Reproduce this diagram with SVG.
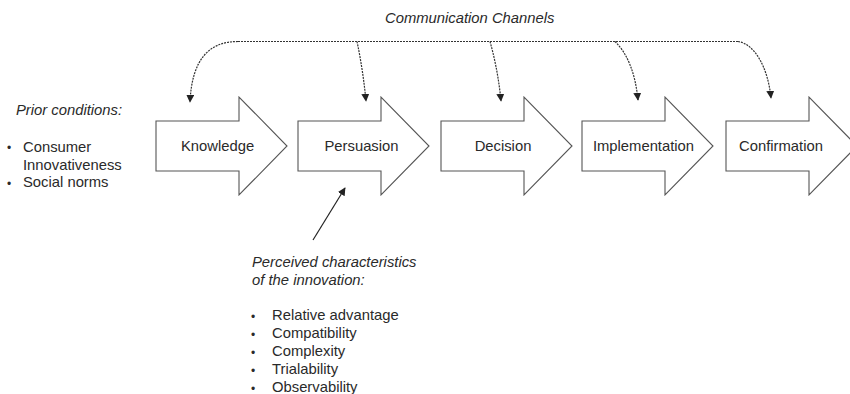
<svg xmlns="http://www.w3.org/2000/svg" width="850" height="394" viewBox="0 0 850 394">
<defs>
<style>
.t{font-family:"Liberation Sans",Arial,sans-serif;font-size:14.8px;fill:#2a2a2a}
.i{font-style:italic}
.m{text-anchor:middle}
.b{font-size:12px}
.ar{fill:#fff;stroke:#555;stroke-width:1.1}
.d{fill:none;stroke:#333;stroke-width:1.2;stroke-dasharray:2 1}
.s{fill:none;stroke:#222;stroke-width:1.2}
</style>
<marker id="ah" viewBox="0 0 10 10" refX="9" refY="5" markerWidth="8" markerHeight="8" markerUnits="userSpaceOnUse" orient="auto">
<path d="M0,0 L10,5 L0,10 Z" fill="#222"/>
</marker>
<path id="shape" d="M0,121 H83 V97 L131,146 L83,195 V171 H0 Z"/>
</defs>
<rect width="850" height="394" fill="#fff"/>
<text class="t i" x="385" y="23">Communication Channels</text>
<g id="connectors">
<path class="d" d="M238,41.5 H738"/>
<path class="d" d="M238,41.5 C210,41.5 192,58 190,102" marker-end="url(#ah)"/>
<path class="d" d="M357,41.5 Q363,70 366,101" marker-end="url(#ah)"/>
<path class="d" d="M490,41.5 Q498,70 501,101" marker-end="url(#ah)"/>
<path class="d" d="M615,41.5 Q634,60 638,100" marker-end="url(#ah)"/>
<path class="d" d="M738,41.5 C755,44 768,68 771,98" marker-end="url(#ah)"/>
<path class="s" d="M313,240 L345,188" marker-end="url(#ah)"/>
</g>
<g id="knowledge"><use href="#shape" class="ar" x="156"/><text class="t m" x="217.5" y="151">Knowledge</text></g>
<g id="persuasion"><use href="#shape" class="ar" x="298"/><text class="t m" x="361.5" y="151">Persuasion</text></g>
<g id="decision"><use href="#shape" class="ar" x="441"/><text class="t m" x="503" y="151">Decision</text></g>
<g id="implementation"><use href="#shape" class="ar" x="582"/><text class="t m" x="643.5" y="151">Implementation</text></g>
<g id="confirmation"><use href="#shape" class="ar" x="726"/><text class="t m" x="781" y="151">Confirmation</text></g>
<g id="prior">
<text class="t i" x="16" y="115">Prior conditions:</text>
<text class="t b" x="7" y="151.5">•</text>
<text class="t" x="23" y="151.5">Consumer</text>
<text class="t" x="23" y="169.5">Innovativeness</text>
<text class="t b" x="7" y="187.5">•</text>
<text class="t" x="23" y="187">Social norms</text>
</g>
<g id="perceived">
<text class="t i" x="252" y="266.5">Perceived characteristics</text>
<text class="t i" x="252" y="284.5">of the innovation:</text>
<text class="t b" x="251" y="320.5">•</text><text class="t" x="272" y="320">Relative advantage</text>
<text class="t b" x="251" y="338.5">•</text><text class="t" x="272" y="338">Compatibility</text>
<text class="t b" x="251" y="356.5">•</text><text class="t" x="272" y="356">Complexity</text>
<text class="t b" x="251" y="374.5">•</text><text class="t" x="272" y="374">Trialability</text>
<text class="t b" x="251" y="392.5">•</text><text class="t" x="272" y="392">Observability</text>
</g>
</svg>
